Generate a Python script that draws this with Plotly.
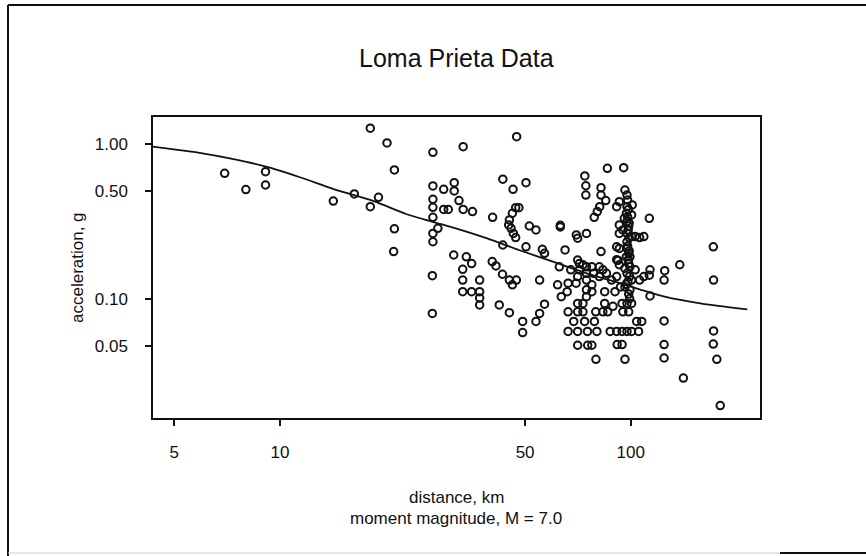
import plotly.graph_objects as go

# ---------------- data ----------------
dist_km = [
    6.96, 8.0, 9.1, 9.1, 14.2, 16.3, 18.1, 18.1, 19.1, 20.2, 21.2, 21.2, 21.1,
    27.3, 27.3, 27.3, 27.3, 27.3, 27.3, 27.3, 27.2, 27.2, 28.2, 29.3, 29.3, 30.2,
    31.4, 31.4, 32.4, 33.3, 33.3, 35.4, 31.3, 34.0, 35.2, 33.2, 33.2, 33.2, 35.2,
    37.1, 37.1, 37.1, 37.1, 40.4, 40.3, 41.3, 43.2, 43.1, 45.1, 46.0, 47.2, 42.2,
    45.1, 49.2, 49.2, 47.3, 43.2, 46.2, 50.3,
    47.0, 48.0, 46.0, 45.1, 44.9, 45.6, 46.3, 47.0,
    51.4, 53.7, 50.3, 56.0, 56.8, 55.0, 56.8, 55.0, 53.7,
    63.0, 63.0, 65.0, 70.0, 70.6, 74.8, 82.3, 74.0, 74.5, 74.5, 82.3, 82.3, 84.9,
    81.6, 80.3, 78.7, 85.8, 95.5,
    62.6, 67.5, 70.6, 71.4, 73.1, 74.8, 71.4, 74.8, 77.5, 78.4, 81.4, 83.3, 85.3,
    88.2, 91.2, 90.2, 84.3, 81.4, 77.5, 74.8, 70.6, 66.3, 61.9, 65.9, 69.9, 63.4,
    74.8, 77.5, 70.6, 73.1, 74.8, 84.3, 66.3, 70.6, 73.1, 79.5, 83.3, 68.8, 73.9,
    78.8, 66.3, 70.6, 75.3, 80.1, 70.6, 75.4, 77.5, 79.6,
    91.2, 92.8, 96.3, 97.6, 98.0, 101.0, 97.6, 97.2, 95.9, 97.6, 92.8, 98.7, 95.0,
    92.8, 97.6, 100.6, 103.0, 106.0, 109.0, 97.6, 91.2, 92.8, 97.6, 98.7, 99.5,
    97.2, 98.7, 92.8, 96.3, 99.5, 103.0, 97.6, 100.6, 106.0, 109.0, 113.0, 113.5,
    96.3, 98.7, 99.3, 100.6, 97.6, 94.5, 95.0, 98.7, 104.0, 107.5, 87.4, 91.2,
    94.5, 97.6, 100.6, 105.3, 91.5, 94.5, 96.3, 100.6, 91.2, 92.0, 93.5, 89.0, 86.0,
    98.5, 98.0, 99.0, 98.4, 99.0, 98.0, 99.0, 98.5, 99.2, 98.2, 97.0, 99.5,
    113.0, 125.0, 124.5, 113.5, 138.0, 124.5, 124.5, 124.5, 141.3, 172.0, 172.3,
    172.3, 172.0, 176.0, 180.0,
]
accel_g = [
    0.65, 0.51, 0.666, 0.546, 0.43, 0.478, 1.27, 0.396, 0.455, 1.02, 0.683, 0.285, 0.203,
    0.888, 0.539, 0.442, 0.392, 0.338, 0.266, 0.235, 0.142, 0.081, 0.287, 0.512, 0.38, 0.38,
    0.565, 0.50, 0.433, 0.965, 0.38, 0.368, 0.193, 0.188, 0.17, 0.156, 0.133, 0.112, 0.112,
    0.133, 0.112, 0.102, 0.092, 0.338, 0.175, 0.164, 0.224, 0.145, 0.133, 0.124, 0.133, 0.092,
    0.082, 0.072, 0.061, 1.12, 0.595, 0.512, 0.565,
    0.39, 0.39, 0.359, 0.325, 0.302, 0.287, 0.266, 0.25,
    0.297, 0.28, 0.218, 0.21, 0.198, 0.133, 0.093, 0.081, 0.072,
    0.30, 0.293, 0.208, 0.26, 0.248, 0.266, 0.203, 0.625, 0.54, 0.47, 0.525, 0.47, 0.433,
    0.396, 0.368, 0.338, 0.70, 0.706,
    0.162, 0.155, 0.179, 0.17, 0.167, 0.162, 0.155, 0.147, 0.162, 0.147, 0.162, 0.155, 0.147,
    0.133, 0.14, 0.112, 0.112, 0.14, 0.124, 0.133, 0.14, 0.127, 0.124, 0.112, 0.127, 0.104,
    0.115, 0.112, 0.094, 0.094, 0.104, 0.094, 0.083, 0.083, 0.083, 0.083, 0.083, 0.072, 0.072,
    0.072, 0.062, 0.062, 0.062, 0.062, 0.0505, 0.0505, 0.0505, 0.041,
    0.396, 0.426, 0.507, 0.47, 0.437, 0.406, 0.396, 0.359, 0.333, 0.317, 0.302, 0.297, 0.28,
    0.266, 0.266, 0.254, 0.254, 0.25, 0.254, 0.235, 0.218, 0.213, 0.213, 0.198, 0.188,
    0.188, 0.17, 0.167, 0.158, 0.162, 0.155, 0.147, 0.133, 0.133, 0.14, 0.143, 0.155,
    0.12, 0.108, 0.101, 0.094, 0.094, 0.094, 0.083, 0.083, 0.072, 0.072, 0.062, 0.062,
    0.062, 0.062, 0.062, 0.062, 0.051, 0.051, 0.041, 0.35, 0.18, 0.178, 0.12, 0.09, 0.083,
    0.38, 0.34, 0.31, 0.28, 0.25, 0.22, 0.205, 0.18, 0.14, 0.13, 0.125, 0.115,
    0.333, 0.153, 0.133, 0.105, 0.167, 0.0725, 0.051, 0.0418, 0.031, 0.218, 0.133,
    0.0625, 0.0514, 0.041, 0.0206,
]

# fitted curve
curve_dist_km = [4.34, 5.9, 7.2, 9.3, 11.35, 14.8, 18.5, 22.9, 27.4, 31.2, 39, 48,
                 60, 75, 93, 106, 125, 158, 215]
curve_accel_g = [0.965, 0.88, 0.81, 0.71, 0.615, 0.50, 0.43, 0.355, 0.315, 0.29,
                 0.247, 0.208, 0.175, 0.147, 0.127, 0.116, 0.104, 0.094, 0.086]

x_tick_vals = [5, 10, 50, 100]
x_tick_text = ["5", "10", "50", "100"]
y_tick_vals = [0.05, 0.1, 0.5, 1.0]
y_tick_text = ["0.05", "0.10", "0.50", "1.00"]

title_text = "Loma Prieta Data"
x_title_lines = ["distance, km", "moment magnitude, M = 7.0"]
y_title_text = "acceleration, g"

# ---------------- layout geometry ----------------
W, H = 866, 556
L, R, T, B = 153, 106, 117, 138
PW, PH = W - L - R, H - T - B


def px(x):
    return (x - L) / PW


def py(y):
    return (H - B - y) / PH


FONT = "Liberation Sans, Arial, Helvetica, sans-serif"
INK = "#111111"

fig = go.Figure()
fig.add_trace(go.Scatter(
    x=curve_dist_km, y=curve_accel_g, mode="lines",
    line=dict(color=INK, width=1.8, shape="spline", smoothing=0.6),
    hoverinfo="skip", showlegend=False,
))
fig.add_trace(go.Scatter(
    x=dist_km, y=accel_g, mode="markers",
    marker=dict(symbol="circle-open", size=7.5, color=INK, line=dict(width=2, color=INK)),
    showlegend=False,
))

fig.update_xaxes(
    type="log", range=[0.6383, 2.3686],
    tickvals=x_tick_vals, ticktext=x_tick_text,
    ticks="outside", ticklen=6, tickwidth=1.5, tickcolor=INK,
    showline=True, linecolor=INK, linewidth=1.5, mirror=True,
    showgrid=False, zeroline=False,
    tickfont=dict(family=FONT, size=17, color=INK),
    ticklabelstandoff=12,
)
fig.update_yaxes(
    type="log", range=[-1.766, 0.176],
    tickvals=y_tick_vals, ticktext=y_tick_text,
    ticks="outside", ticklen=6, tickwidth=1.5, tickcolor=INK,
    showline=True, linecolor=INK, linewidth=1.5, mirror=True,
    showgrid=False, zeroline=False,
    tickfont=dict(family=FONT, size=17, color=INK),
    ticklabelstandoff=14,
)

annotations = [
    dict(text=title_text, x=px(456), y=py(58), xref="paper", yref="paper",
         showarrow=False, xanchor="center", yanchor="middle",
         font=dict(family=FONT, size=25, color=INK)),
    dict(text=x_title_lines[0], x=px(456), y=py(497), xref="paper", yref="paper",
         showarrow=False, xanchor="center", yanchor="middle",
         font=dict(family=FONT, size=17, color=INK)),
    dict(text=x_title_lines[1], x=px(456), y=py(518), xref="paper", yref="paper",
         showarrow=False, xanchor="center", yanchor="middle",
         font=dict(family=FONT, size=17, color=INK)),
    dict(text=y_title_text, x=px(77), y=py(268), xref="paper", yref="paper",
         showarrow=False, xanchor="center", yanchor="middle", textangle=-90,
         font=dict(family=FONT, size=17, color=INK)),
]

shapes = [
    # outer frame of the scanned page
    dict(type="line", xref="paper", yref="paper", x0=px(8), x1=px(8), y0=py(5), y1=py(556),
         line=dict(color=INK, width=2)),
    dict(type="line", xref="paper", yref="paper", x0=px(8), x1=px(866), y0=py(5), y1=py(5),
         line=dict(color=INK, width=2)),
    dict(type="line", xref="paper", yref="paper", x0=px(8), x1=px(780), y0=py(553), y1=py(553),
         line=dict(color="#cccccc", width=1)),
    dict(type="line", xref="paper", yref="paper", x0=px(780), x1=px(866), y0=py(553), y1=py(553),
         line=dict(color=INK, width=2)),
]

fig.update_layout(
    width=W, height=H,
    margin=dict(l=L, r=R, t=T, b=B, pad=0),
    paper_bgcolor="white", plot_bgcolor="white",
    annotations=annotations, shapes=shapes,
    showlegend=False,
)

fig.write_html("out.html")
